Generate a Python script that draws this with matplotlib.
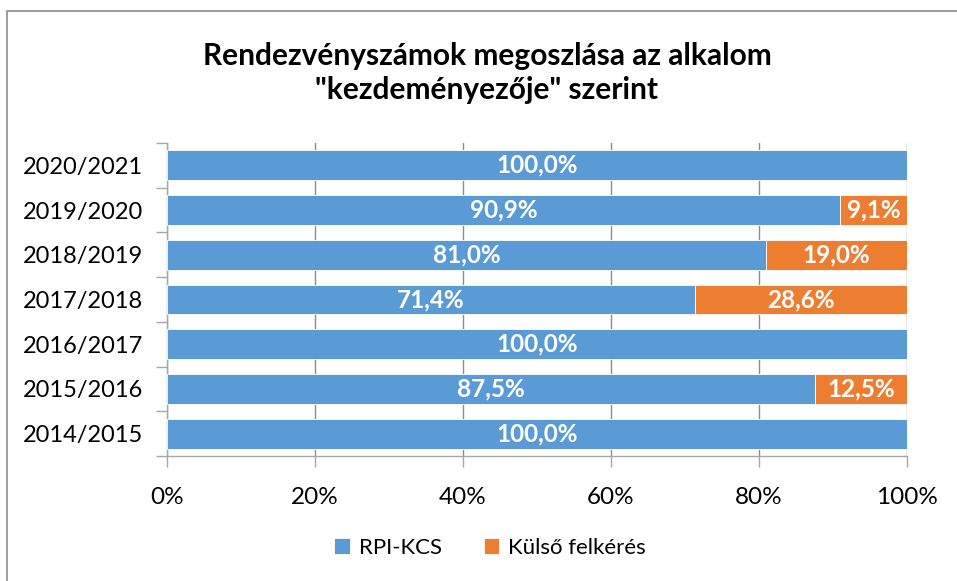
import matplotlib
matplotlib.use("Agg")
import matplotlib.pyplot as plt
from matplotlib.patches import Rectangle
from matplotlib.ticker import FuncFormatter

plt.rcParams['font.family'] = ['Lato', 'DejaVu Sans']

categories = ["2014/2015", "2015/2016", "2016/2017", "2017/2018", "2018/2019", "2019/2020", "2020/2021"]
rpi_kcs = [100.0, 87.5, 100.0, 71.4, 81.0, 90.9, 100.0]
kulso = [0.0, 12.5, 0.0, 28.6, 19.0, 9.1, 0.0]
series_names = ["RPI-KCS", "Külső felkérés"]
title = 'Rendezvényszámok megoszlása az alkalom\n"kezdeményezője" szerint'

W, H = 957, 581
fig = plt.figure(figsize=(W / 100, H / 100), dpi=100)

# chart border (only left and top edges fall inside the image)
fig.patches.append(Rectangle((7 / W, -0.05), 1.2, 1.05 - 11 / H, transform=fig.transFigure,
                             fill=False, edgecolor="#8c8c8c", linewidth=1.2))

ax = fig.add_axes([167 / W, 1 - 456 / H, (907 - 167) / W, (456 - 143) / H])

blue = "#5b9bd5"
orange = "#ed7d31"
y = list(range(len(categories)))
h = 0.67
b1 = ax.barh(y, rpi_kcs, height=h, color=blue, edgecolor="white", linewidth=0.6, zorder=3)
b2 = ax.barh(y, kulso, left=rpi_kcs, height=h, color=orange, edgecolor="white", linewidth=0.6, zorder=3)

def fmt(v):
    return f"{v:.1f}%".replace(".", ",")

for i in y:
    ax.text(rpi_kcs[i] / 2, i, fmt(rpi_kcs[i]), ha="center", va="center", color="white",
            fontsize=17.5, fontweight="bold", zorder=4)
    if kulso[i] > 0:
        ax.text(rpi_kcs[i] + kulso[i] / 2, i, fmt(kulso[i]), ha="center", va="center",
                color="white", fontsize=17.5, fontweight="bold", zorder=4)

ax.set_xlim(0, 100)
ax.set_ylim(-0.5, len(categories) - 0.5)
ax.set_xticks([0, 20, 40, 60, 80, 100])
ax.xaxis.set_major_formatter(FuncFormatter(lambda v, p: f"{int(v)}%"))
ax.set_yticks(y)
ax.set_yticklabels(categories)
ax.set_yticks([i - 0.5 for i in range(len(categories) + 1)], minor=True)
ax.tick_params(axis="y", which="major", length=0, labelsize=17, pad=17)
ax.tick_params(axis="y", which="minor", length=8, color="#a6a6a6", width=1)
ax.tick_params(axis="x", length=8, color="#a6a6a6", width=1, labelsize=17.5, pad=14)
ax.grid(axis="x", color="#8c8c8c", linewidth=1, zorder=0)
for s in ["top", "right"]:
    ax.spines[s].set_visible(False)
for s in ["left", "bottom"]:
    ax.spines[s].set_color("#a6a6a6")
    ax.spines[s].set_linewidth(1)

fig.text(487 / W, 1 - 73 / H, title, ha="center", va="center", fontsize=21.5,
         fontweight="bold", linespacing=1.3)

leg = fig.legend([b1, b2], series_names, loc="center", bbox_to_anchor=(490 / W, 1 - 548 / H),
                 ncol=2, frameon=False, fontsize=16, handlelength=0.7, handleheight=0.7,
                 handletextpad=0.4, columnspacing=1.9)

fig.savefig("out.png", dpi=100)
